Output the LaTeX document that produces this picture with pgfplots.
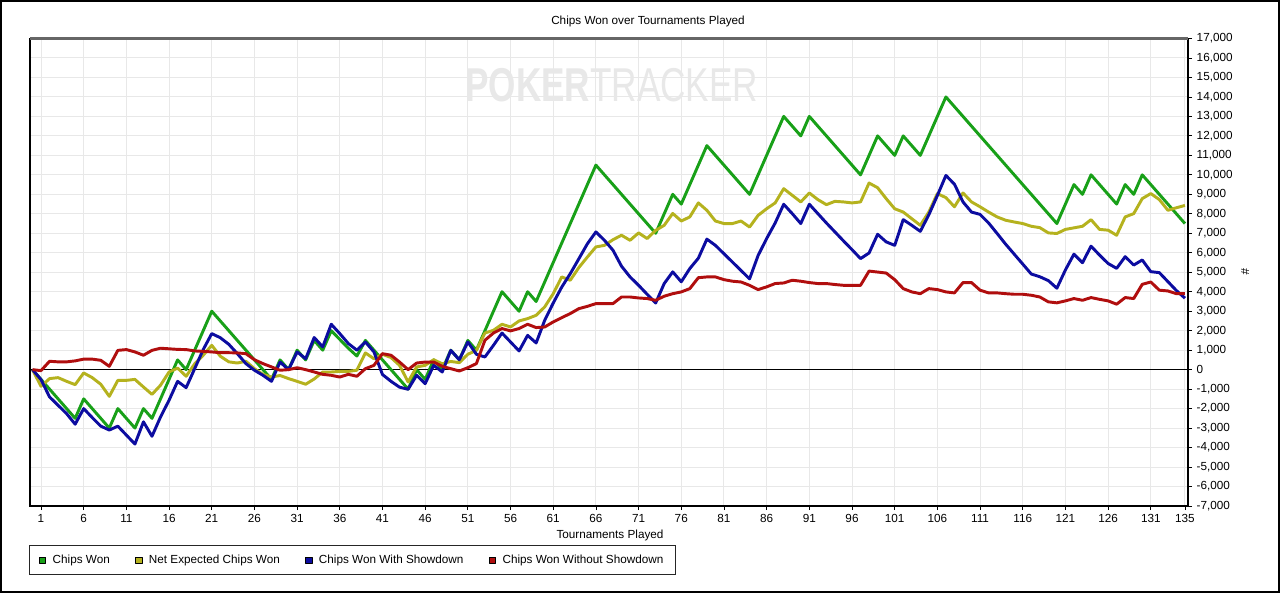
\documentclass[border=0pt]{standalone}
\usepackage{fontspec}
\setmainfont{Liberation Sans}
\usepackage{pgfplots}
\usepackage{pgfplotstable}
\pgfplotsset{compat=1.18}
\definecolor{cg}{RGB}{24,160,24}
\definecolor{cy}{RGB}{181,178,30}
\definecolor{cb}{RGB}{12,12,160}
\definecolor{cr}{RGB}{176,14,14}
\newcommand\fs{\fontsize{8.8}{10.5}\selectfont}
\pgfplotstableread{
i g y b r
0 0 0 0 0
1 -500 -855 -510 -50
2 -1000 -460 -1400 430
3 -1500 -410 -1830 400
4 -2000 -600 -2260 400
5 -2500 -770 -2800 450
6 -1500 -170 -2000 540
7 -2000 -410 -2460 540
8 -2500 -750 -2900 480
9 -3000 -1370 -3100 170
10 -2000 -550 -2900 990
11 -2500 -550 -3360 1030
12 -3000 -500 -3820 910
13 -2000 -890 -2680 740
14 -2500 -1270 -3420 990
15 -1500 -800 -2430 1100
16 -500 -120 -1570 1070
17 500 80 -600 1040
18 0 -340 -925 1030
19 1000 300 50 960
20 2000 740 1030 940
21 3000 1250 1850 910
22 2500 690 1640 870
23 2000 400 1300 870
24 1500 340 820 860
25 1000 430 310 820
26 500 50 -30 510
27 0 -240 -290 310
28 -500 -380 -600 140
29 500 -300 390 -30
30 0 -460 0 0
31 1000 -600 910 100
32 500 -750 560 0
33 1500 -480 1650 -120
34 1000 -120 1170 -240
35 2000 -120 2330 -290
36 1550 -90 1850 -380
37 1100 -90 1340 -240
38 700 -30 1000 -340
39 1500 860 1420 50
40 1000 560 910 220
41 500 790 -250 820
42 0 620 -600 740
43 -500 220 -900 390
44 -1000 -630 -1010 0
45 0 140 -290 340
46 -500 220 -720 390
47 500 510 220 390
48 0 300 -120 170
49 1000 420 990 50
50 500 360 510 -70
51 1500 790 1420 100
52 1000 990 790 310
53 2000 1880 650 1510
54 3000 2020 1250 1880
55 4000 2330 1880 2110
56 3500 2190 1420 1990
57 3000 2500 960 2110
58 4000 2620 1760 2330
59 3500 2790 1370 2160
60 4500 3220 2530 2190
61 5500 3900 3420 2450
62 6500 4760 4240 2670
63 7500 4590 4930 2880
64 8500 5240 5690 3130
65 9500 5780 6460 3250
66 10500 6300 7070 3390
67 10000 6380 6640 3390
68 9500 6670 6130 3390
69 9000 6900 5310 3730
70 8500 6640 4760 3730
71 8000 7020 4330 3680
72 7500 6730 3870 3650
73 7000 7150 3420 3560
74 8000 7410 4420 3770
75 9000 8020 5020 3900
76 8500 7630 4510 3990
77 9500 7840 5190 4160
78 10500 8560 5720 4720
79 11500 8180 6700 4760
80 11000 7630 6380 4760
81 10500 7500 5950 4620
82 10000 7500 5520 4540
83 9500 7630 5090 4500
84 9000 7320 4660 4330
85 10000 7920 5860 4110
86 11000 8260 6730 4250
87 12000 8560 7530 4420
88 13000 9290 8490 4450
89 12500 8950 8010 4590
90 12000 8610 7500 4540
91 13000 9070 8490 4470
92 12500 8730 8010 4420
93 12000 8470 7530 4420
94 11500 8640 7070 4370
95 11000 8610 6610 4330
96 10500 8560 6160 4330
97 10000 8610 5700 4330
98 11000 9580 5990 5060
99 12000 9340 6950 5010
100 11500 8780 6560 4960
101 11000 8260 6380 4620
102 12000 8090 7700 4160
103 11500 7750 7410 3990
104 11000 7410 7100 3900
105 12000 8090 7950 4160
106 13000 9040 8940 4110
107 14000 8830 9970 3990
108 13500 8360 9520 3940
109 13000 9070 8610 4470
110 12500 8610 8090 4470
111 12000 8360 7970 4080
112 11500 8090 7530 3940
113 11000 7840 6990 3940
114 10500 7670 6440 3900
115 10000 7580 5930 3870
116 9500 7500 5420 3870
117 9000 7360 4910 3820
118 8500 7290 4770 3730
119 8000 7020 4570 3480
120 7500 6990 4180 3430
121 8500 7200 5120 3530
122 9500 7280 5930 3650
123 9000 7360 5490 3560
124 10000 7700 6340 3700
125 9500 7200 5880 3610
126 9000 7160 5450 3530
127 8500 6900 5200 3360
128 9500 7840 5800 3700
129 9000 8010 5370 3650
130 10000 8780 5630 4380
131 9500 9040 5030 4500
132 9000 8730 4980 4080
133 8500 8180 4520 4040
134 8000 8310 4060 3900
135 7500 8430 3670 3900
}\data
\begin{document}
\begin{tikzpicture}
\useasboundingbox (-22.5pt,-65.25pt) rectangle (937.5pt,379.5pt);
\fill[white] (-22.5pt,-65.25pt) rectangle (937.5pt,379.5pt);
\node[anchor=west, inner sep=0pt, text=black!9] at (326.25pt,315.75pt)
  {\scalebox{0.74}[1]{\fontsize{35.6}{36}\selectfont\bfseries POKER\mdseries TRACKER}};
\begin{axis}[
  scale only axis, width=868.5pt, height=350.625pt,
  xmin=-0.29, xmax=135.36, ymin=-7000, ymax=17000,
  xtick={1,6,...,131,135},
  ytick={-7000,-6000,...,17000},
  scaled y ticks=false, scaled x ticks=false,
  xtick pos=left, ytick pos=right, yticklabel pos=right,
  tick align=outside, major tick length=3pt,
  tick style={black, line width=0.6pt},
  grid=major, major grid style={line width=0.75pt, color=black!9},
  axis line style={black, line width=0.9pt},
  ticklabel style={font=\fs},
  /pgf/number format/1000 sep={,},
  /pgf/number format/assume math mode=true,
  legend columns=4,
  legend cell align=left,
  legend style={at={(0,0)}, anchor=north west, xshift=-0.75pt, yshift=-29.25pt,
    draw=black!85, line width=1pt, font=\fs, inner xsep=7pt, inner ysep=4.9pt,
    /tikz/every odd column/.append style={column sep=3pt},
    /tikz/every even column/.append style={column sep=17pt}},
]
\draw[black, line width=0.75pt] (axis cs:-0.29,0) -- (axis cs:135.36,0);
\addplot[cg, line width=2.2pt, line join=round,
  legend image code/.code={\draw[black, line width=0.5pt, fill=cg] (0pt,-2.4pt) rectangle (4.8pt,2.4pt);}]
  table[x=i, y=g] {\data};
\addlegendentry{Chips Won}
\addplot[cy, line width=2.2pt, line join=round,
  legend image code/.code={\draw[black, line width=0.5pt, fill=cy] (0pt,-2.4pt) rectangle (4.8pt,2.4pt);}]
  table[x=i, y=y] {\data};
\addlegendentry{Net Expected Chips Won}
\addplot[cb, line width=2.2pt, line join=round,
  legend image code/.code={\draw[black, line width=0.5pt, fill=cb] (0pt,-2.4pt) rectangle (4.8pt,2.4pt);}]
  table[x=i, y=b] {\data};
\addlegendentry{Chips Won With Showdown}
\addplot[cr, line width=2.2pt, line join=round,
  legend image code/.code={\draw[black, line width=0.5pt, fill=cr] (0pt,-2.4pt) rectangle (4.8pt,2.4pt);}]
  table[x=i, y=r] {\data};
\addlegendentry{Chips Won Without Showdown}
\end{axis}
\draw[black!60, line width=2pt] (0pt,350.625pt) -- (868.5pt,350.625pt);
\draw[black, line width=1.5pt] (-21.75pt,-64.5pt) rectangle (936.75pt,378.75pt);
\node[font=\fs] at (463.5pt,363.75pt) {Chips Won over Tournaments Played};
\node[font=\fs] at (435pt,-21.75pt) {Tournaments Played};
\node[font=\fs, rotate=-90] at (911.25pt,175.5pt) {\#};
\end{tikzpicture}
\end{document}
